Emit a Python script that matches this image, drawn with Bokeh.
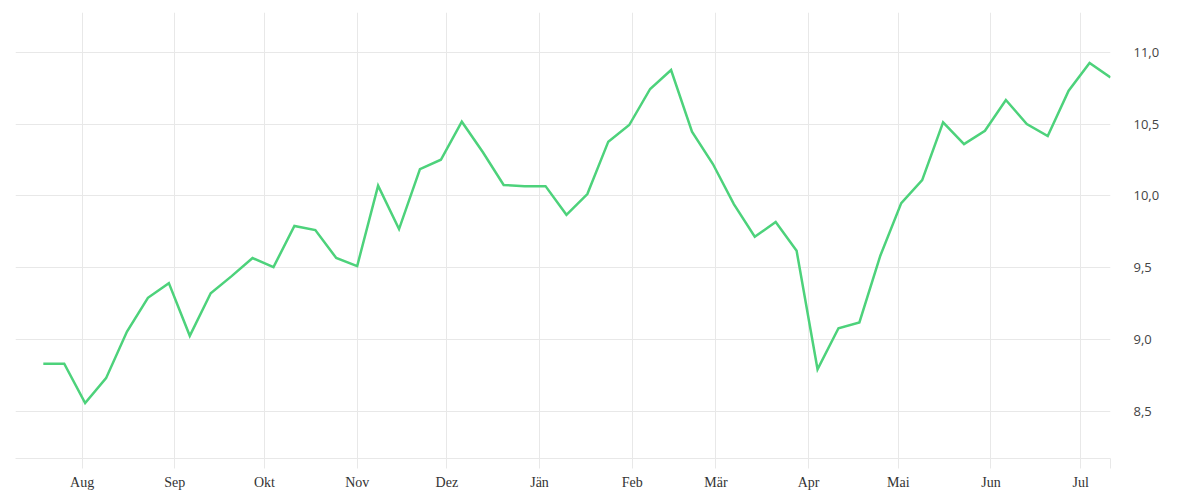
import pandas as pd
from bokeh.plotting import figure
from bokeh.models import FixedTicker, Range1d, LinearAxis, Grid
from bokeh.embed import file_html
from bokeh.resources import INLINE

start_date = "2022-07-19"
values = [8.83, 8.83, 8.556, 8.729, 9.054, 9.289, 9.391, 9.024, 9.321, 9.44,
          9.566, 9.503, 9.789, 9.761, 9.566, 9.510, 10.07, 9.768, 10.186, 10.251,
          10.516, 10.305, 10.075, 10.067, 10.067, 9.867, 10.012, 10.377, 10.493, 10.744,
          10.876, 10.446, 10.221, 9.942, 9.714, 9.817, 9.616, 8.791, 9.077, 9.117,
          9.582, 9.949, 10.109, 10.511, 10.36, 10.453, 10.667, 10.5, 10.416, 10.732,
          10.925, 10.825]
dates = pd.date_range(start_date, periods=len(values), freq="7D")

month_starts = ["2022-08-01", "2022-09-01", "2022-10-01", "2022-11-01", "2022-12-01",
                "2023-01-01", "2023-02-01", "2023-03-01", "2023-04-01", "2023-05-01",
                "2023-06-01", "2023-07-01"]
month_labels = ["Aug", "Sep", "Okt", "Nov", "Dez", "Jän", "Feb", "Mär", "Apr", "Mai",
                "Jun", "Jul"]
y_ticks = [8.5, 9.0, 9.5, 10.0, 10.5, 11.0]
y_labels = ["8,5", "9,0", "9,5", "10,0", "10,5", "11,0"]

def ms(d):
    return pd.Timestamp(d).value / 1e6

x_start = ms(dates[0]) - 9.3 * 86400000
x_end = ms(dates[-1])

p = figure(frame_width=1095, frame_height=446, x_axis_type=None, y_axis_location=None,
           output_backend="svg", toolbar_location=None,
           min_border_left=15, min_border_top=12, min_border_right=10, min_border_bottom=0,
           x_range=Range1d(x_start, x_end), y_range=Range1d(8.169, 11.277))
p.outline_line_color = None
p.background_fill_color = "white"

grid_color = "#e8e8e8"
tick_vals = [ms(d) for d in month_starts] + [x_end]
overrides = {ms(d): lab for d, lab in zip(month_starts, month_labels)}
overrides[x_end] = ""
xaxis = LinearAxis(ticker=FixedTicker(ticks=tick_vals))
xaxis.major_label_overrides = overrides
xaxis.axis_line_color = grid_color
xaxis.major_tick_line_color = grid_color
xaxis.major_tick_out = 10
xaxis.major_tick_in = 0
xaxis.minor_tick_line_color = None
xaxis.major_label_standoff = 6
xaxis.major_label_text_font = "Liberation Serif"
xaxis.major_label_text_font_size = "14px"
xaxis.major_label_text_color = "#333333"
p.add_layout(xaxis, "below")

yaxis = LinearAxis(ticker=FixedTicker(ticks=y_ticks))
yaxis.major_label_overrides = {t: l for t, l in zip(y_ticks, y_labels)}
yaxis.axis_line_color = None
yaxis.major_tick_line_color = None
yaxis.minor_tick_line_color = None
yaxis.major_label_standoff = 17
yaxis.major_label_text_font = "Open Sans"
yaxis.major_label_text_font_size = "13px"
yaxis.major_label_text_color = "#444444"
p.add_layout(yaxis, "right")

for g in list(p.renderers):
    pass
p.center = [c for c in p.center if not isinstance(c, Grid)]
p.add_layout(Grid(dimension=0, ticker=FixedTicker(ticks=tick_vals),
                  grid_line_color=grid_color), "center")
p.add_layout(Grid(dimension=1, ticker=FixedTicker(ticks=y_ticks),
                  grid_line_color=grid_color), "center")

p.line([ms(d) for d in dates], values, line_color="#4dd27b", line_width=2.5,
       line_join="miter")

open("out.html", "w").write(file_html(p, INLINE))
